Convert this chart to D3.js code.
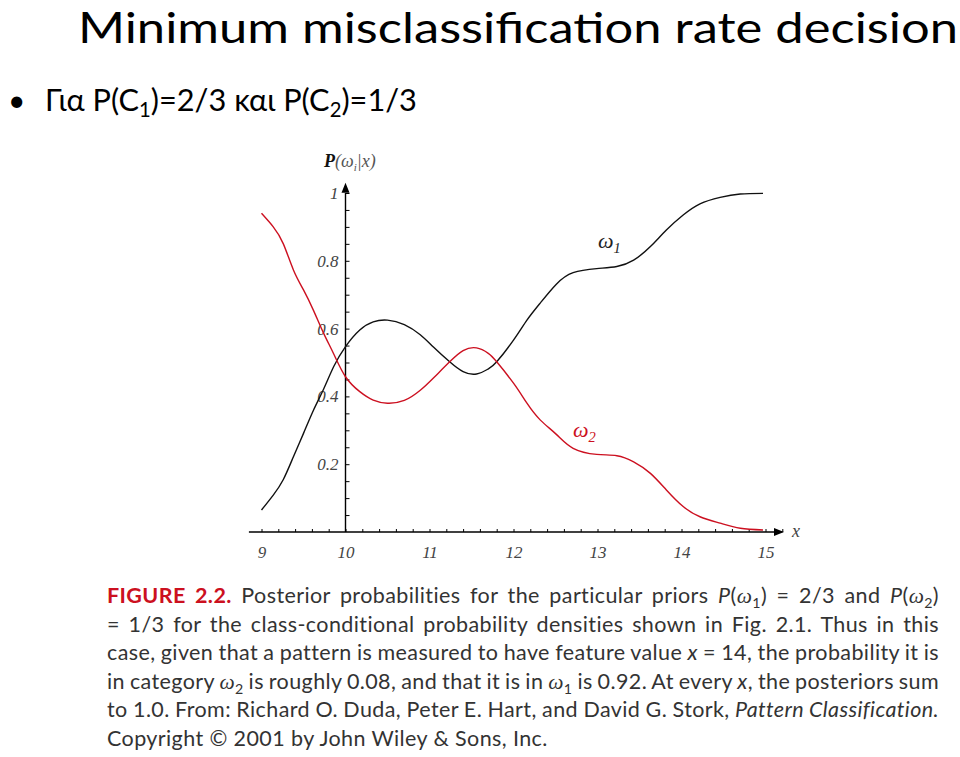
<!DOCTYPE html>
<html><head><meta charset="utf-8">
<script src="https://cdn.jsdelivr.net/npm/d3@7"></script>
<style>body{margin:0;background:#fff}svg{display:block}</style>
</head><body>
<script>
// ---- data ----
const xValues = [9.0, 9.14, 9.26, 9.38, 9.5, 9.62, 9.74, 9.86, 10.0, 10.17, 10.33, 10.5, 10.7, 10.89, 11.05, 11.24, 11.4, 11.56, 11.7, 11.8, 12.0, 12.16, 12.32, 12.51, 12.71, 12.99, 13.23, 13.43, 13.63, 13.82, 14.02, 14.22, 14.46, 14.7, 14.97];
const omega1 = [0.065, 0.109, 0.155, 0.222, 0.291, 0.36, 0.422, 0.488, 0.547, 0.596, 0.62, 0.625, 0.612, 0.582, 0.545, 0.502, 0.473, 0.466, 0.481, 0.502, 0.566, 0.625, 0.676, 0.731, 0.765, 0.777, 0.783, 0.802, 0.842, 0.891, 0.935, 0.968, 0.987, 0.997, 0.999];
const omega2 = [0.94, 0.90, 0.85, 0.773, 0.714, 0.653, 0.586, 0.525, 0.458, 0.414, 0.389, 0.38, 0.388, 0.418, 0.455, 0.502, 0.535, 0.543, 0.527, 0.502, 0.439, 0.38, 0.33, 0.288, 0.247, 0.229, 0.225, 0.207, 0.173, 0.124, 0.075, 0.045, 0.026, 0.011, 0.006];
const xTicks = [9, 10, 11, 12, 13, 14, 15];
const xTickLabels = ["9", "10", "11", "12", "13", "14", "15"];
const yTicks = [0.2, 0.4, 0.6, 0.8, 1];
const yTickLabels = ["0.2", "0.4", "0.6", "0.8", "1"];

const W = 960, H = 757;
const RED = "#cc1020";
const svg = d3.select("body").append("svg").attr("width", W).attr("height", H);

// ---- title ----
svg.append("text").attr("x", 78).attr("y", 42.5)
  .style("font-family", "Lato").style("font-size", "43px").style("fill", "#000")
  .attr("textLength", 880).attr("lengthAdjust", "spacingAndGlyphs")
  .text("Minimum misclassification rate decision");

// bullet line
svg.append("text").attr("x", 8).attr("y", 111).style("font-family", "Lato")
  .style("font-size", "30px").text("•");
function richText(g, segs, x0, y0, baseSize, family, fill) {
  const t = g.append("text").attr("x", x0).attr("y", y0)
    .style("font-family", family).style("font-size", baseSize + "px").style("fill", fill);
  let shift = 0;
  segs.forEach(s => {
    const ts = t.append("tspan").text(s.t);
    const want = s.sub ? Math.round(baseSize * 0.22) : 0;
    if (want !== shift) { ts.attr("dy", want - shift); shift = want; }
    if (s.sub) ts.style("font-size", (baseSize * 0.66) + "px");
    if (s.i) ts.style("font-style", "italic");
    if (s.b) ts.style("font-weight", "bold");
    if (s.c) ts.style("fill", s.c);
    if (s.f) ts.style("font-family", s.f);
  });
  return t;
}
const bl = richText(svg, [
  {t: "Για P(C"}, {t: "1", sub: true}, {t: ")=2/3 και P(C"}, {t: "2", sub: true}, {t: ")=1/3"}
], 45, 111, 29, "Lato", "#000");
(function(){
  const w = bl.node().getComputedTextLength();
  const fs = 29 * 372 / w;
  bl.style("font-size", fs + "px");
  bl.selectAll("tspan").each(function(){
    const s = d3.select(this);
    if (s.text() === "1" || s.text() === "2") s.style("font-size", (fs * 0.66) + "px");
  });
})();

// ---- chart ----
const x = d3.scaleLinear().domain([9, 15]).range([261.5, 765.5]);
const y = d3.scaleLinear().domain([0, 1]).range([532, 193]);
const chart = svg.append("g");
const AX = "#000";

// x axis line + arrow
chart.append("line").attr("x1", x(8.85)).attr("x2", x(15.2)).attr("y1", y(0)).attr("y2", y(0))
  .attr("stroke", AX).attr("stroke-width", 1.4);
chart.append("path")
  .attr("d", `M${x(15.22)},${y(0)} L${x(15.22) - 10},${y(0) - 4} L${x(15.22) - 10},${y(0) + 4} Z`)
  .attr("fill", AX);
// y axis line + arrow
chart.append("line").attr("x1", x(10)).attr("x2", x(10)).attr("y1", y(0)).attr("y2", y(1.0))
  .attr("stroke", AX).attr("stroke-width", 1.4);
chart.append("path")
  .attr("d", `M${x(10)},${y(1.03)} L${x(10) - 4},${y(1.03) + 10} L${x(10) + 4},${y(1.03) + 10} Z`)
  .attr("fill", AX);

// minor ticks
const xMinor = d3.range(9, 15.2001, 0.2).map(v => +v.toFixed(2));
const gx = chart.append("g").attr("transform", `translate(0,${y(0)})`)
  .call(d3.axisTop(x).tickValues(xMinor).tickSize(3).tickFormat(""));
gx.select(".domain").remove();
gx.selectAll("line").attr("stroke", AX).attr("stroke-width", 1);

const yMinor = d3.range(0.05, 1.0001, 0.05).map(v => +v.toFixed(2));
const gy = chart.append("g").attr("transform", `translate(${x(10)},0)`)
  .call(d3.axisRight(y).tickValues(yMinor).tickSize(4).tickFormat(""));
gy.select(".domain").remove();
gy.selectAll("line").attr("stroke", AX).attr("stroke-width", 1);

// tick labels
const gxl = chart.append("g").attr("transform", `translate(0,${y(0)})`)
  .call(d3.axisBottom(x).tickValues(xTicks).tickSize(0).tickPadding(14)
    .tickFormat((d, i) => xTickLabels[i]));
gxl.select(".domain").remove();
gxl.selectAll("text").style("font-family", "Liberation Serif").style("font-style", "italic")
  .style("font-size", "17px").attr("fill", "#444");

const gyl = chart.append("g").attr("transform", `translate(${x(10)},0)`)
  .call(d3.axisLeft(y).tickValues(yTicks).tickSize(0).tickPadding(7)
    .tickFormat((d, i) => yTickLabels[i]));
gyl.select(".domain").remove();
gyl.selectAll("text").style("font-family", "Liberation Serif").style("font-style", "italic")
  .style("font-size", "17px").attr("fill", "#444");

// axis titles
const yt = chart.append("text").attr("x", 324).attr("y", 167)
  .style("font-family", "Liberation Serif").style("font-style", "italic").style("font-size", "18px");
yt.append("tspan").attr("fill", "#111").style("font-weight", "bold").text("P");
yt.append("tspan").attr("fill", "#555").text("(ω");
yt.append("tspan").attr("fill", "#555").attr("dy", 4).style("font-size", "11px").text("i");
yt.append("tspan").attr("fill", "#555").attr("dy", -4).text("|x)");
chart.append("text").attr("x", x(15.22) + 8).attr("y", y(0) + 5)
  .style("font-family", "Liberation Serif").style("font-style", "italic").style("font-size", "18px")
  .attr("fill", "#444").text("x");

// curves
const line = d3.line().x(d => x(d[0])).y(d => y(d[1])).curve(d3.curveNatural);
chart.append("path").datum(xValues.map((v, i) => [v, omega1[i]]))
  .attr("d", line).attr("fill", "none").attr("stroke", "#111").attr("stroke-width", 1.4);
chart.append("path").datum(xValues.map((v, i) => [v, omega2[i]]))
  .attr("d", line).attr("fill", "none").attr("stroke", RED).attr("stroke-width", 1.4);

// series labels
richText(chart, [{t: "ω", i: true}, {t: "1", sub: true, i: true}], 598, 248, 22, "Liberation Serif", "#222");
richText(chart, [{t: "ω", i: true}, {t: "2", sub: true, i: true}], 573, 437, 22, "Liberation Serif", RED);

// ---- caption ----
const CAP = "#333";
const SER = "Liberation Serif";
const captionLines = [
  [{t: "FIGURE 2.2.", b: true, c: RED}, {t: " Posterior probabilities for the particular priors "},
   {t: "P", i: true}, {t: "(", }, {t: "ω", i: true, f: SER}, {t: "1", sub: true}, {t: ") = 2/3 and "},
   {t: "P", i: true}, {t: "("}, {t: "ω", i: true, f: SER}, {t: "2", sub: true}, {t: ")"}],
  [{t: "= 1/3 for the class-conditional probability densities shown in Fig. 2.1. Thus in this"}],
  [{t: "case, given that a pattern is measured to have feature value "}, {t: "x", i: true}, {t: " = 14, the probability it is"}],
  [{t: "in category "}, {t: "ω", i: true, f: SER}, {t: "2", sub: true}, {t: " is roughly 0.08, and that it is in "},
   {t: "ω", i: true, f: SER}, {t: "1", sub: true}, {t: " is 0.92. At every "}, {t: "x", i: true}, {t: ", the posteriors sum"}],
  [{t: "to 1.0. From: Richard O. Duda, Peter E. Hart, and David G. Stork, "}, {t: "Pattern Classification.", i: true}],
  [{t: "Copyright © 2001 by John Wiley & Sons, Inc."}]
];
const capX = 107, capRight = 939, capY0 = 603, capDy = 28.6, capSize = 21.5;
captionLines.forEach((segs, i) => {
  const t = richText(svg, segs, capX, capY0 + i * capDy, capSize, "Lato", CAP)
    .style("letter-spacing", "0.4px");
  if (i < captionLines.length - 1) {
    const w = t.node().getComputedTextLength();
    const spaces = segs.map(s => s.t).join("").split(" ").length - 1;
    t.style("word-spacing", ((capRight - capX - w) / spaces) + "px");
  }
});
</script>
</body></html>
